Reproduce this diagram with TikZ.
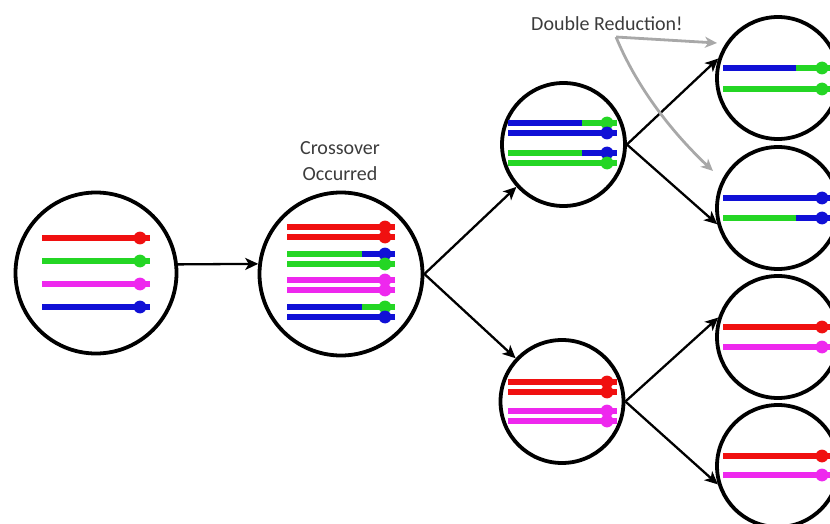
\documentclass[tikz,border=0pt]{standalone}
\usepackage{fontspec}
\setmainfont{Carlito}
\usetikzlibrary{arrows.meta}

\definecolor{chrRed}{RGB}{240,16,16}
\definecolor{chrGreen}{RGB}{36,214,36}
\definecolor{chrMagenta}{RGB}{238,40,238}
\definecolor{chrBlue}{RGB}{16,16,214}
\definecolor{noteGray}{RGB}{168,168,168}
\definecolor{textGray}{RGB}{60,60,60}

\tikzset{
  cell/.style={circle, draw=black, line width=3.8pt, minimum size=#1, inner sep=0pt},
  conn/.style={line width=2.3pt, -{Stealth[length=13pt,width=12pt,inset=3.5pt]}},
  noteline/.style={draw=noteGray, line width=2.8pt, -{Stealth[length=12pt,width=11pt,inset=3.5pt]}},
  captext/.style={font=\fontsize{20}{26}\selectfont, text=textGray, align=center},
  arm/.style={line width=5.8pt},
}

% chromatid: #1 start x, #2 switch x, #3 end x, #4 y, #5 left colour, #6 right colour
\newcommand\chromatid[6]{%
  \draw[arm,#5] (#1,#4) -- (#2,#4);
  \draw[arm,#6] (#2,#4) -- (#3,#4);
  \fill[#6] (#3-10,#4) circle (6.4pt);
}

\begin{document}
\begin{tikzpicture}[x=1pt,y=-1pt]
\useasboundingbox (0,0) rectangle (830,524);
\clip (0,0) rectangle (830,524);

% cells
\node[cell=161pt] (c1) at (96,273) {};
\node[cell=163pt] (c2) at (341,274) {};
\node[cell=123pt] (c3) at (563.5,144.5) {};
\node[cell=123pt] (c4) at (562,401.5) {};
\node[cell=122pt] (r1) at (778,78) {};
\node[cell=122pt] (r2) at (778,208) {};
\node[cell=122pt] (r3) at (778,337) {};
\node[cell=122pt] (r4) at (778,466) {};

% parent cell
\chromatid{42}{100}{150}{238}{chrRed}{chrRed}
\chromatid{42}{100}{150}{261}{chrGreen}{chrGreen}
\chromatid{42}{100}{150}{284}{chrMagenta}{chrMagenta}
\chromatid{42}{100}{150}{307}{chrBlue}{chrBlue}

% after crossover
\chromatid{287}{362}{395}{227}{chrRed}{chrRed}
\chromatid{287}{362}{395}{237}{chrRed}{chrRed}
\chromatid{287}{362}{395}{254}{chrGreen}{chrBlue}
\chromatid{287}{362}{395}{264}{chrGreen}{chrGreen}
\chromatid{287}{362}{395}{280}{chrMagenta}{chrMagenta}
\chromatid{287}{362}{395}{290}{chrMagenta}{chrMagenta}
\chromatid{287}{362}{395}{307}{chrBlue}{chrGreen}
\chromatid{287}{362}{395}{317}{chrBlue}{chrBlue}

% first division
\chromatid{508}{582}{617}{123}{chrBlue}{chrGreen}
\chromatid{508}{582}{617}{133}{chrBlue}{chrBlue}
\chromatid{508}{582}{617}{153}{chrGreen}{chrBlue}
\chromatid{508}{582}{617}{163}{chrGreen}{chrGreen}

\chromatid{508}{582}{617}{382}{chrRed}{chrRed}
\chromatid{508}{582}{617}{392}{chrRed}{chrRed}
\chromatid{508}{582}{617}{411}{chrMagenta}{chrMagenta}
\chromatid{508}{582}{617}{421}{chrMagenta}{chrMagenta}

% second division
\chromatid{723}{796}{832}{68}{chrBlue}{chrGreen}
\chromatid{723}{796}{832}{89}{chrGreen}{chrGreen}
\chromatid{723}{796}{832}{198}{chrBlue}{chrBlue}
\chromatid{723}{796}{832}{218}{chrGreen}{chrBlue}
\chromatid{723}{796}{832}{327}{chrRed}{chrRed}
\chromatid{723}{796}{832}{347}{chrMagenta}{chrMagenta}
\chromatid{723}{796}{832}{456}{chrRed}{chrRed}
\chromatid{723}{796}{832}{475}{chrMagenta}{chrMagenta}

% divisions
\draw[conn] (c1.6.5) -- (c2.173);
\draw[conn] (c2.east) -- (c3.222);
\draw[conn] (c2.east) -- (c4.137);
\draw[conn] (c3.east) -- (r1.162);
\draw[conn] (c3.east) -- (r2.195);
\draw[conn] (c4.east) -- (r3.162);
\draw[conn] (c4.east) -- (r4.197);

% captions
\node[captext] (cross) at (340,161) {Crossover\\Occurred};
\node[captext] (dbl) at (607,24) {Double Reduction!};

% pointers to the two reduced cells
\coordinate (dr) at (616,37);
\coordinate (tipA) at (717,43);
\coordinate (tipB) at (713,171);
\draw[noteline] (dr) -- (tipA);
\draw[noteline] (dr) .. controls (640,95) and (680,140) .. (tipB);
\end{tikzpicture}
\end{document}
